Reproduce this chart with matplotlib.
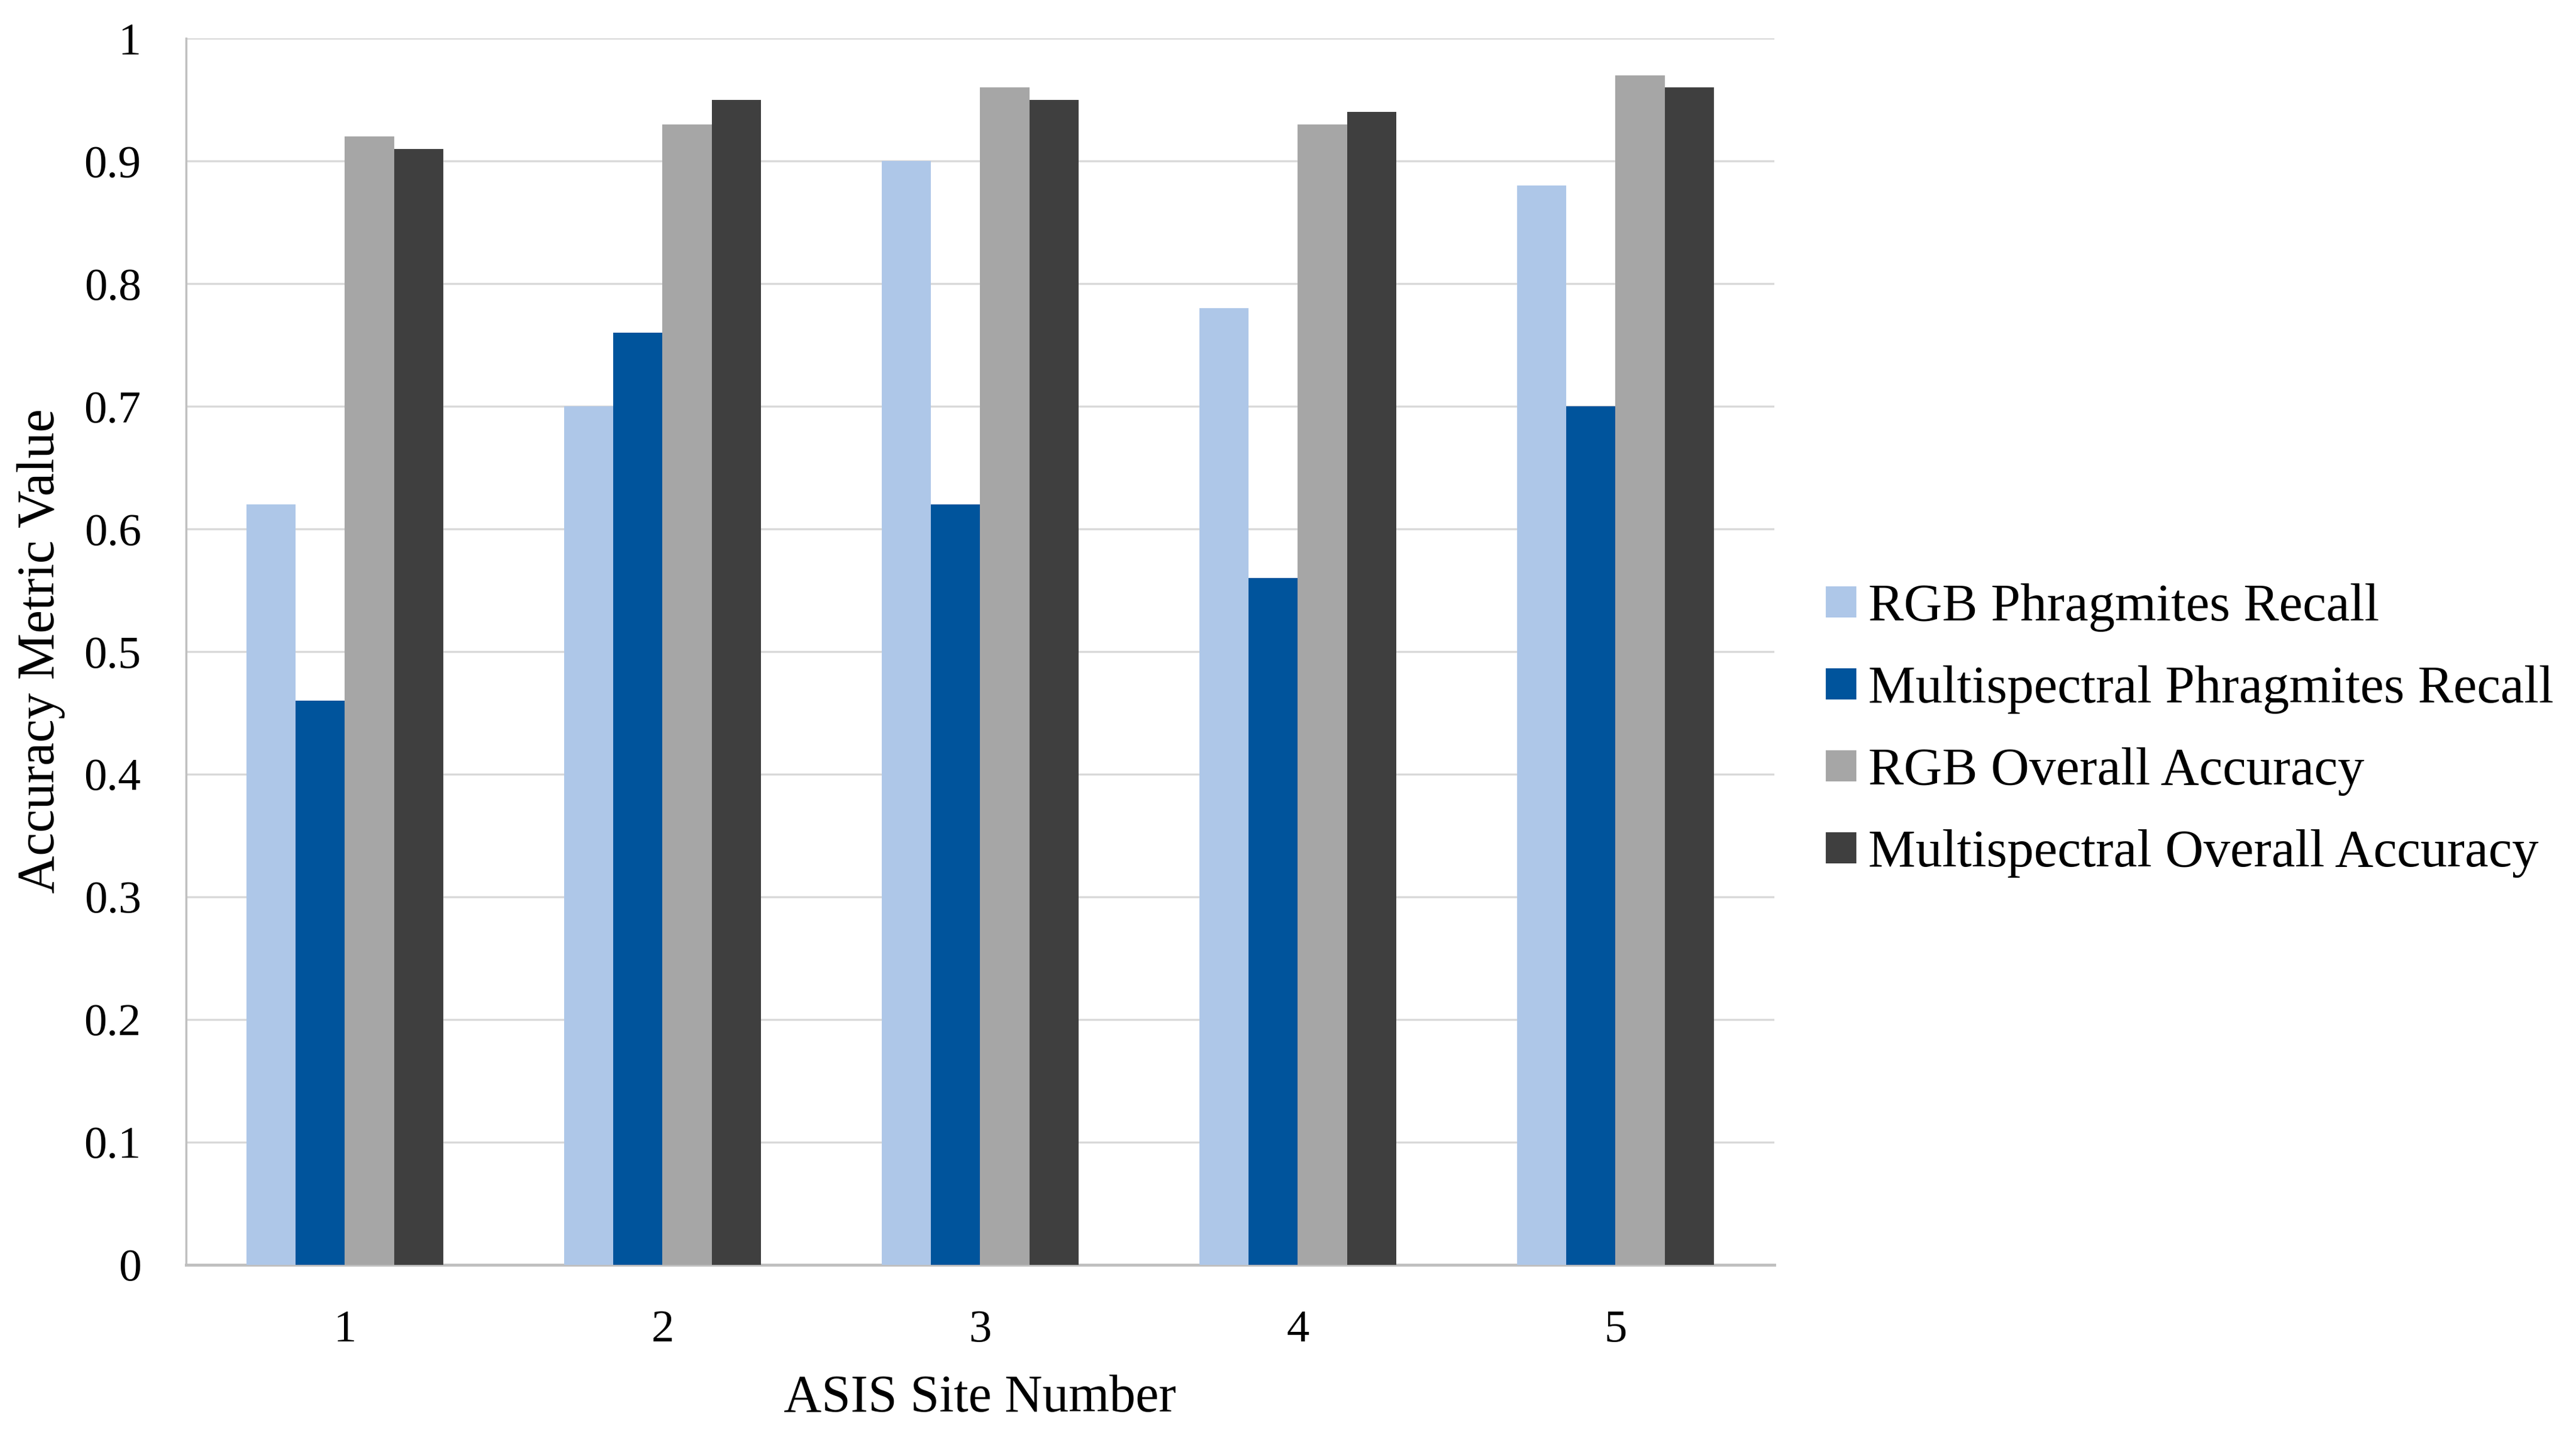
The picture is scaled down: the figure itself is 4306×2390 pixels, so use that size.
import matplotlib
matplotlib.use("Agg")
import matplotlib.pyplot as plt
import numpy as np

sites = ["1", "2", "3", "4", "5"]
series_names = ["RGB Phragmites Recall", "Multispectral Phragmites Recall",
                "RGB Overall Accuracy", "Multispectral Overall Accuracy"]
rgb_recall = [0.62, 0.70, 0.90, 0.78, 0.88]
ms_recall = [0.46, 0.76, 0.62, 0.56, 0.70]
rgb_oa = [0.92, 0.93, 0.96, 0.93, 0.97]
ms_oa = [0.91, 0.95, 0.95, 0.94, 0.96]
yticks = [0, 0.1, 0.2, 0.3, 0.4, 0.5, 0.6, 0.7, 0.8, 0.9, 1]
ytick_labels = ["0", "0.1", "0.2", "0.3", "0.4", "0.5", "0.6", "0.7", "0.8", "0.9", "1"]

colors = ["#AEC7E8", "#00549C", "#A6A6A6", "#3F3F3F"]

plt.rcParams['font.family'] = ['Liberation Serif', 'DejaVu Serif']

fig = plt.figure(figsize=(43.06, 23.90), dpi=100)
ax = fig.add_axes([0.0722, 0.1155, 0.6166, 0.8577])

x = np.arange(1, len(sites) + 1)
w = 0.155
data = [rgb_recall, ms_recall, rgb_oa, ms_oa]
for i, (vals, name, c) in enumerate(zip(data, series_names, colors)):
    ax.bar(x + (i - 1.5) * w, vals, width=w, color=c, label=name, zorder=3, linewidth=0)

ax.set_xlim(0.5, 5.5)
ax.set_ylim(0, 1)
ax.set_yticks(yticks)
ax.set_yticklabels(ytick_labels)
ax.set_xticks(x)
ax.set_xticklabels(sites)
ax.yaxis.grid(True, color="#D9D9D9", linewidth=2.5, zorder=0)
ax.set_axisbelow(True)
for s in ["top", "right"]:
    ax.spines[s].set_visible(False)
ax.spines["left"].set_color("#BFBFBF")
ax.spines["left"].set_linewidth(2.5)
ax.spines["bottom"].set_color("#BFBFBF")
ax.spines["bottom"].set_linewidth(3.5)
ax.tick_params(axis="both", length=0, labelsize=55, colors="black")
ax.tick_params(axis="y", pad=54)
ax.tick_params(axis="x", pad=54)

fig.text(69 / 4306, 1 - 1088 / 2390, "Accuracy Metric Value", rotation=90,
         ha="center", va="center", fontsize=63)
fig.text(1638 / 4306, 1 - 2338 / 2390, "ASIS Site Number",
         ha="center", va="center", fontsize=63)

fig.legend(loc="center left", bbox_to_anchor=(0.7088, 0.489), frameon=False,
           fontsize=64, borderpad=0, borderaxespad=0, handlelength=0.57,
           handleheight=0.53, handletextpad=0.23, labelspacing=0.63)

fig.savefig("out.png", dpi=100, facecolor="white")
